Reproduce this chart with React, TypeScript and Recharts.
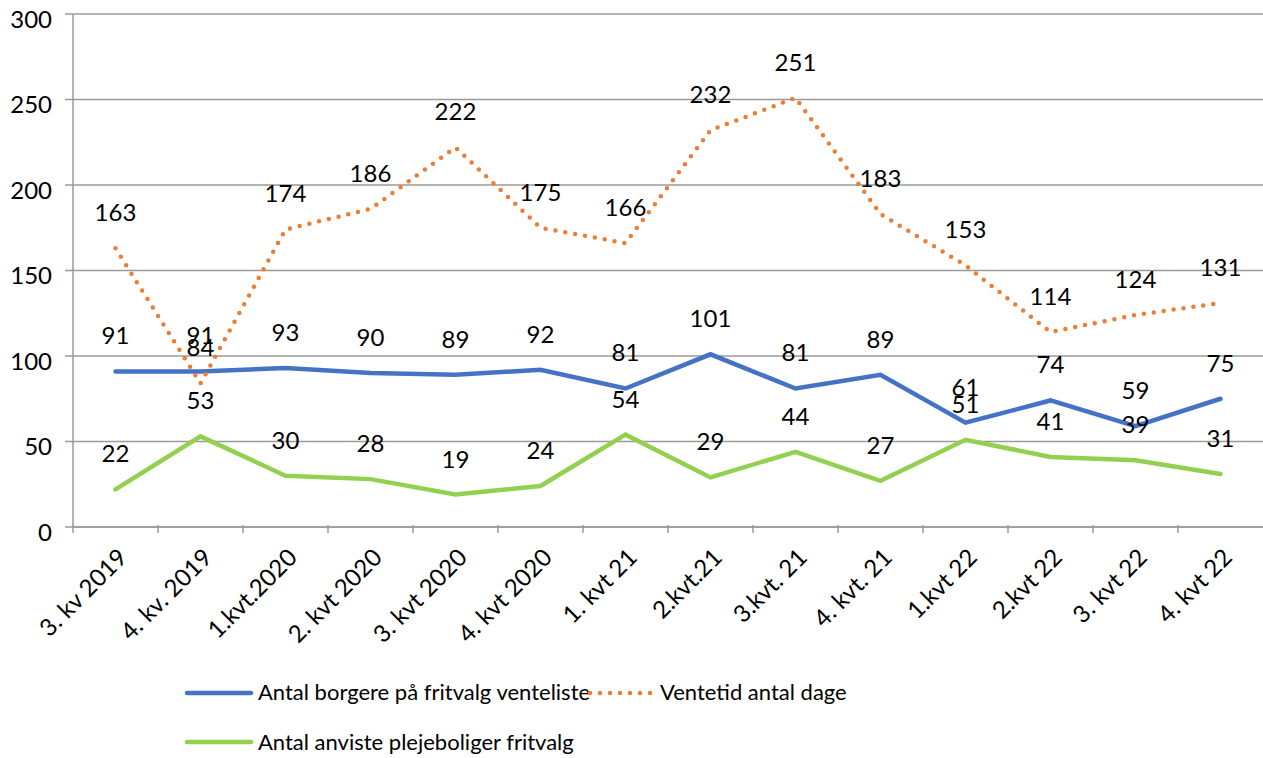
import { CartesianGrid, LabelList, Legend, Line, LineChart, XAxis, YAxis } from 'recharts'

const quarters = [
  '3. kv 2019',
  '4. kv. 2019',
  '1.kvt.2020',
  '2. kvt 2020',
  '3. kvt 2020',
  '4. kvt 2020',
  '1. kvt 21',
  '2.kvt.21',
  '3.kvt. 21',
  '4. kvt. 21',
  '1.kvt 22',
  '2.kvt 22',
  '3. kvt 22',
  '4. kvt 22',
]
const waitingList = [91, 91, 93, 90, 89, 92, 81, 101, 81, 89, 61, 74, 59, 75]
const waitingDays = [163, 84, 174, 186, 222, 175, 166, 232, 251, 183, 153, 114, 124, 131]
const assignedHomes = [22, 53, 30, 28, 19, 24, 54, 29, 44, 27, 51, 41, 39, 31]
const yTicks = [0, 50, 100, 150, 200, 250, 300]

const seriesNames = {
  list: 'Antal borgere på fritvalg venteliste',
  days: 'Ventetid antal dage',
  homes: 'Antal anviste plejeboliger fritvalg',
}

const data = quarters.map((q, i) => ({
  q,
  list: waitingList[i],
  days: waitingDays[i],
  homes: assignedHomes[i],
}))

const W = 1263
const H = 758
const AXIS_W = 73
const HALF_BAND = (W - AXIS_W) / quarters.length / 2

const FONT = 'Lato, "Open Sans", sans-serif'
const GREY = '#9a9a9a'
const BLUE = '#4472C4'
const ORANGE = '#ED7D31'
const GREEN = '#92D050'

const XTick = (props: any) => {
  const { x, y, payload } = props
  return (
    <g>
      <line x1={x - HALF_BAND} x2={x - HALF_BAND} y1={y - 10} y2={y - 2} stroke={GREY} strokeWidth={1.5} />
      <g transform={`translate(${x + 13},${y + 24})`}>
        <text textAnchor="end" transform="rotate(-45)" fontSize={24} fontFamily={FONT} fill="#000">
          {payload.value}
        </text>
      </g>
    </g>
  )
}

const YTick = (props: any) => {
  const { x, y, payload } = props
  return (
    <text x={x} y={y + 13.5} textAnchor="end" fontSize={24} fontFamily={FONT} fill="#000">
      {payload.value}
    </text>
  )
}

const renderLegend = () => (
  <svg width={900} height={100} style={{ display: 'block' }}>
    <line x1={7} x2={71} y1={33} y2={33} stroke={BLUE} strokeWidth={4.5} strokeLinecap="round" />
    <text x={78} y={40} fontSize={22} fontFamily={FONT} fill="#000">
      {seriesNames.list}
    </text>
    <line
      x1={410}
      x2={471}
      y1={33}
      y2={33}
      stroke={ORANGE}
      strokeWidth={4.5}
      strokeLinecap="round"
      strokeDasharray="0 10"
    />
    <text x={480} y={40} fontSize={22} fontFamily={FONT} fill="#000">
      {seriesNames.days}
    </text>
    <line x1={7} x2={71} y1={82} y2={82} stroke={GREEN} strokeWidth={4.5} strokeLinecap="round" />
    <text x={78} y={90} fontSize={22} fontFamily={FONT} fill="#000">
      {seriesNames.homes}
    </text>
  </svg>
)

const labelStyle = { fontSize: 24, fontFamily: FONT, fill: '#000' }

export default function App() {
  return (
    <div style={{ position: 'absolute', left: 0, top: 0, width: W, height: H, background: '#fff' }}>
      <LineChart width={W} height={H} data={data} margin={{ top: 14, right: 0, left: 0, bottom: 0 }}>
        <CartesianGrid horizontal vertical={false} stroke={GREY} strokeWidth={1.5} />
        <XAxis
          dataKey="q"
          height={231}
          interval={0}
          padding={{ left: HALF_BAND, right: HALF_BAND }}
          tick={<XTick />}
          tickLine={false}
          axisLine={{ stroke: GREY, strokeWidth: 1.5 }}
        />
        <YAxis
          width={AXIS_W}
          domain={[0, 300]}
          ticks={yTicks}
          tick={<YTick />}
          tickSize={8}
          tickMargin={13}
          tickLine={{ stroke: GREY, strokeWidth: 1.5 }}
          axisLine={{ stroke: GREY, strokeWidth: 1.5 }}
        />
        <Legend
          layout="horizontal"
          verticalAlign="middle"
          align="center"
          content={renderLegend}
          wrapperStyle={{ left: 180, top: 660, width: 900, height: 100 }}
        />
        <Line
          dataKey="list"
          name={seriesNames.list}
          type="linear"
          stroke={BLUE}
          strokeWidth={4.5}
          strokeLinecap="round"
          dot={false}
          isAnimationActive={false}
        >
          <LabelList dataKey="list" position="top" offset={27} style={labelStyle} />
        </Line>
        <Line
          dataKey="days"
          name={seriesNames.days}
          type="linear"
          stroke={ORANGE}
          strokeWidth={4.5}
          strokeLinecap="round"
          strokeDasharray="0 10"
          dot={false}
          isAnimationActive={false}
        >
          <LabelList dataKey="days" position="top" offset={27} style={labelStyle} />
        </Line>
        <Line
          dataKey="homes"
          name={seriesNames.homes}
          type="linear"
          stroke={GREEN}
          strokeWidth={4.5}
          strokeLinecap="round"
          dot={false}
          isAnimationActive={false}
        >
          <LabelList dataKey="homes" position="top" offset={27} style={labelStyle} />
        </Line>
      </LineChart>
    </div>
  )
}
